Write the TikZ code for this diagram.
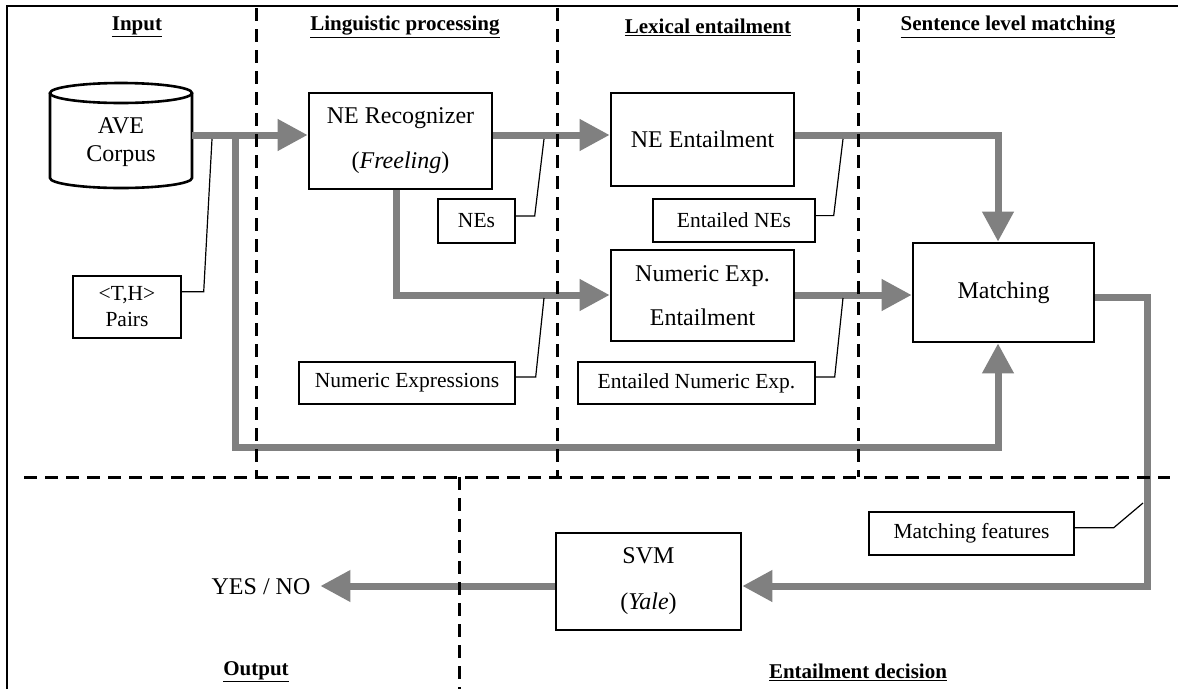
\documentclass[tikz,border=0pt]{standalone}
\usepackage{fontspec}
\setmainfont{Liberation Serif}
\usetikzlibrary{arrows.meta,calc}
\definecolor{flowgray}{RGB}{128,128,128}
\begin{document}
\begin{tikzpicture}[x=1pt,y=-1pt,
  box/.style={draw=black,line width=2.6pt,inner sep=0pt,align=center,font=\fontsize{24}{28}\selectfont},
  lbl/.style={draw=black,line width=1.4pt,inner sep=0pt,align=center,font=\fontsize{21.5}{26}\selectfont},
  flow/.style={draw=flowgray,line width=7pt,-{Triangle[length=30pt,width=30pt]}},
  leader/.style={draw=black,line width=1.2pt},
  sep/.style={draw=black,line width=3pt,dash pattern=on 13pt off 8pt},
  title/.style={font=\fontsize{21}{24}\selectfont\bfseries,inner sep=0pt},
  plain/.style={font=\fontsize{24}{28}\selectfont,inner sep=0pt,align=center}]
\useasboundingbox (0,0) rectangle (1178,689);
\fill[white] (0,0) rectangle (1178,689);
% frame
\draw[line width=2pt] (7,689) -- (7,6) -- (1178,6);
% helper rows / columns
\coordinate (r1) at (0,135);
\coordinate (r2) at (0,295);
\coordinate (r3) at (0,447);
\coordinate (r4) at (0,586);
\coordinate (r5) at (0,297);
\coordinate (c1) at (235,0);
\coordinate (c2) at (396,0);
\coordinate (c3) at (998,0);
\coordinate (c4) at (1147,0);
% titles
\node[title] (tin) at (137,27) {\underline{Input}};
\node[title] (tling) at (405,27) {\underline{Linguistic processing}};
\node[title] (tlex) at (708,27) {\underline{Lexical entailment}};
\node[title] (tsent) at (1008,27) {\underline{Sentence level matching}};
\node[title] (tout) at (256,672) {\underline{Output}};
\node[title] (tdec) at (858,672) {\underline{Entailment decision}};
% cylinder
\draw[line width=2.6pt,fill=white] (50,93) -- (50,178) arc[start angle=180,end angle=360,x radius=71pt,y radius=10pt] -- (192,93);
\draw[line width=2.6pt] (121,93) ellipse [x radius=71pt,y radius=10pt];
\node[plain,minimum width=142pt,minimum height=95pt] (ave) at (121,142) {AVE\\Corpus};
% boxes
\node[box,minimum width=183pt,minimum height=96pt] (nerec) at (400.5,141) {NE Recognizer\\[17pt](\textit{Freeling})};
\node[box,minimum width=183pt,minimum height=93pt] (neent) at (702.5,139.5) {NE Entailment};
\node[box,minimum width=183pt,minimum height=91pt] (nument) at (702.5,295.5) {Numeric Exp.\\[16pt]Entailment};
\node[box,minimum width=181pt,minimum height=99pt] (matching) at (1003.5,292.5) {Matching};
\node[box,minimum width=185pt,minimum height=97pt] (svm) at (648.5,581.5) {SVM\\[18pt](\textit{Yale})};
\node[plain,outer sep=10pt] (yesno) at (261,587) {YES / NO};
% labels
\node[lbl,minimum width=108pt,minimum height=62pt] (thp) at (127,307) {<T,H>\\Pairs};
\node[lbl,minimum width=77pt,minimum height=44pt] (nes) at (476.5,221) {NEs};
\node[lbl,minimum width=162pt,minimum height=43pt] (entnes) at (734,220.5) {Entailed NEs};
\node[lbl,minimum width=216pt,minimum height=42pt] (numexp) at (407,383) {Numeric Expressions};
\node[lbl,minimum width=237pt,minimum height=42pt] (entnum) at (696.5,383) {Entailed Numeric Exp.};
\node[lbl,minimum width=205pt,minimum height=43pt] (matfeat) at (971.5,533.5) {Matching features};
% flows
\draw[flow] (ave.east |- r1) -- (nerec.west |- r1);
\draw[flow] (c1 |- r1) -- (c1 |- r3) -- (c3 |- r3) -- (c3 |- matching.south);
\draw[flow] (nerec.east |- r1) -- (neent.west |- r1);
\draw[flow] (neent.east |- r1) -- (c3 |- r1) -- (c3 |- matching.north);
\draw[flow] (c2 |- nerec.south) -- (c2 |- r2) -- (nument.west |- r2);
\draw[flow] (nument.east |- r2) -- (matching.west |- r2);
\draw[flow] (matching.east |- r5) -- (c4 |- r5) -- (c4 |- r4) -- (svm.east |- r4);
\draw[flow] (svm.west |- r4) -- (yesno.east |- r4);
% leader end points
\coordinate (l1) at (212,139);
\coordinate (l2) at (544,139);
\coordinate (l3) at (843,139);
\coordinate (l4) at (544,298);
\coordinate (l5) at (843,298);
\coordinate (l6) at (1143,503);
% leaders
\draw[leader] ($(thp.north east)!0.26!(thp.south east)$) -- ++(22,0) -- (l1);
\draw[leader] ($(nes.north east)!0.39!(nes.south east)$) -- ++(19,0) -- (l2);
\draw[leader] ($(entnes.north east)!0.39!(entnes.south east)$) -- ++(18,0) -- (l3);
\draw[leader] ($(numexp.north east)!0.36!(numexp.south east)$) -- ++(20,0) -- (l4);
\draw[leader] ($(entnum.north east)!0.36!(entnum.south east)$) -- ++(19,0) -- (l5);
\draw[leader] ($(matfeat.north east)!0.37!(matfeat.south east)$) -- ++(39,0) -- (l6);
% separators
\draw[sep] (256,8) -- (256,477);
\draw[sep] (557,8) -- (557,477);
\draw[sep] (858,8) -- (858,477);
\draw[sep] (24,477) -- (1170,477);
\draw[sep] (459,477) -- (459,689);
\end{tikzpicture}
\end{document}
